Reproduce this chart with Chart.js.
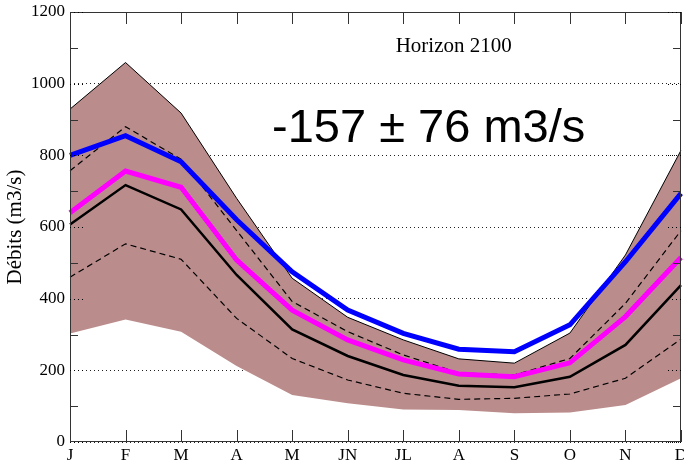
<!DOCTYPE html>
<html>
<head>
<meta charset="utf-8">
<script src="https://cdn.jsdelivr.net/npm/chart.js@4"></script>
<style>
  html, body { margin: 0; padding: 0; background: #fff; }
  #wrap { width: 684px; height: 462px; }
</style>
</head>
<body>
<div id="wrap"><canvas id="debits"></canvas></div>
<script>
// mois de l'année
const mois = ["J", "F", "M", "A", "M", "JN", "JL", "A", "S", "O", "N", "D"];
const yTicks = [0, 200, 400, 600, 800, 1000, 1200];

// enveloppe min / max des modèles
const enveloppeMax = [929, 1059, 918, 680, 457, 348, 285, 232, 220, 304, 522, 814];
const enveloppeMin = [303, 342, 308, 212, 131, 108, 91, 89, 80, 82, 103, 178];
// quartiles (tirets)
const quartileHaut = [757, 880, 789, 590, 392, 308, 243, 193, 187, 233, 387, 590];
const quartileBas = [460, 553, 510, 345, 233, 173, 136, 119, 122, 134, 178, 287];
// médiane, moyenne et débits actuels
const mediane = [607, 717, 649, 466, 314, 240, 187, 157, 153, 182, 271, 438];
const moyenne = [640, 756, 711, 508, 368, 285, 229, 190, 182, 221, 350, 515];
const actuel = [800, 855, 782, 620, 475, 368, 303, 259, 252, 327, 503, 694];

const serif = "'Liberation Serif', 'DejaVu Serif', serif";
const sans = "'Liberation Sans', Arial, sans-serif";

// cadre, graduations internes et textes
const cadre = {
    id: "cadre",
    afterDatasetsDraw(chart) {
        const { ctx, chartArea: a, scales } = chart;
        ctx.save();
        ctx.strokeStyle = "#333";
        ctx.lineWidth = 1;
        ctx.strokeRect(a.left + 0.5, a.top + 0.5, a.right - a.left - 1, a.bottom - a.top - 1);

        // graduations y : majeures en pointillés, mineures pleines
        for (let v = 0; v <= 1200; v += 100) {
            const py = Math.round(scales.y.getPixelForValue(v)) + 0.5;
            ctx.beginPath();
            if (v % 200 === 0) {
                ctx.setLineDash([1, 3]);
                ctx.strokeStyle = "#000";
                ctx.moveTo(a.left, py); ctx.lineTo(a.left + 13, py);
                ctx.moveTo(a.right - 13, py); ctx.lineTo(a.right, py);
            } else {
                ctx.setLineDash([]);
                ctx.strokeStyle = "#333";
                ctx.moveTo(a.left, py); ctx.lineTo(a.left + 8, py);
                ctx.moveTo(a.right - 8, py); ctx.lineTo(a.right, py);
            }
            ctx.stroke();
        }
        ctx.setLineDash([]);
        ctx.strokeStyle = "#333";
        mois.forEach((m, i) => {
            const px = Math.round(scales.x.getPixelForValue(i)) + 0.5;
            ctx.beginPath();
            ctx.moveTo(px, a.top); ctx.lineTo(px, a.top + 12);
            ctx.moveTo(px, a.bottom); ctx.lineTo(px, a.bottom - 12);
            ctx.stroke();
        });

        const w = a.right - a.left;
        ctx.fillStyle = "#000";
        ctx.textAlign = "center";
        ctx.textBaseline = "alphabetic";
        ctx.font = "21px " + serif;
        ctx.fillText("Horizon 2100", a.left + w * 0.628, a.top + 40);
        ctx.font = "47px " + sans;
        ctx.fillText("-157 ± 76 m3/s", a.left + w * 0.587, a.top + 130);
        ctx.restore();
    },
};

const ligne = (data, color, width, order, extra) => Object.assign({
    data: data,
    borderColor: color,
    borderWidth: width,
    pointRadius: 0,
    tension: 0,
    fill: false,
    order: order,
}, extra || {});

new Chart(document.getElementById("debits"), {
    type: "line",
    data: {
        labels: mois,
        datasets: [
            ligne(actuel, "#0000ff", 5, 1),
            ligne(moyenne, "#ff00ff", 5, 2),
            ligne(mediane, "#000", 2.5, 3),
            ligne(quartileHaut, "#000", 1.2, 4, { borderDash: [6, 4] }),
            ligne(quartileBas, "#000", 1.2, 5, { borderDash: [6, 4] }),
            ligne(enveloppeMax, "#000", 1, 6, { fill: "+1", backgroundColor: "#bb8c8c" }),
            ligne(enveloppeMin, "rgba(0,0,0,0)", 0, 7),
        ],
    },
    options: {
        responsive: true,
        maintainAspectRatio: false,
        animation: false,
        events: [],
        layout: { padding: { top: 12, right: 3, left: 0, bottom: 0 } },
        plugins: {
            legend: { display: false },
            tooltip: { enabled: false },
            filler: { propagate: false },
        },
        scales: {
            x: {
                offset: false,
                grid: { display: false, drawTicks: false },
                border: { display: false },
                ticks: {
                    color: "#000",
                    font: { family: serif, size: 17 },
                    padding: 3,
                    maxRotation: 0,
                    autoSkip: false,
                },
                afterFit(scale) {
                    scale.height = 20;
                    scale.paddingLeft = 0;
                    scale.paddingRight = 0;
                },
            },
            y: {
                min: 0,
                max: 1200,
                afterBuildTicks(scale) {
                    scale.ticks = yTicks.map((v) => ({ value: v }));
                },
                grid: {
                    drawTicks: false,
                    color: "#222",
                    lineWidth: 1,
                },
                border: { display: false, dash: [1, 3] },
                ticks: {
                    color: "#000",
                    font: { family: serif, size: 17 },
                    padding: 5,
                    callback: (v) => String(v),
                },
                title: {
                    display: true,
                    text: "Débits (m3/s)",
                    color: "#000",
                    font: { family: serif, size: 21 },
                    padding: { top: 3, bottom: 0 },
                },
                afterFit(scale) {
                    scale.width = 70;
                    scale.paddingTop = 0;
                    scale.paddingBottom = 0;
                },
            },
        },
    },
    plugins: [cadre],
});
</script>
</body>
</html>
